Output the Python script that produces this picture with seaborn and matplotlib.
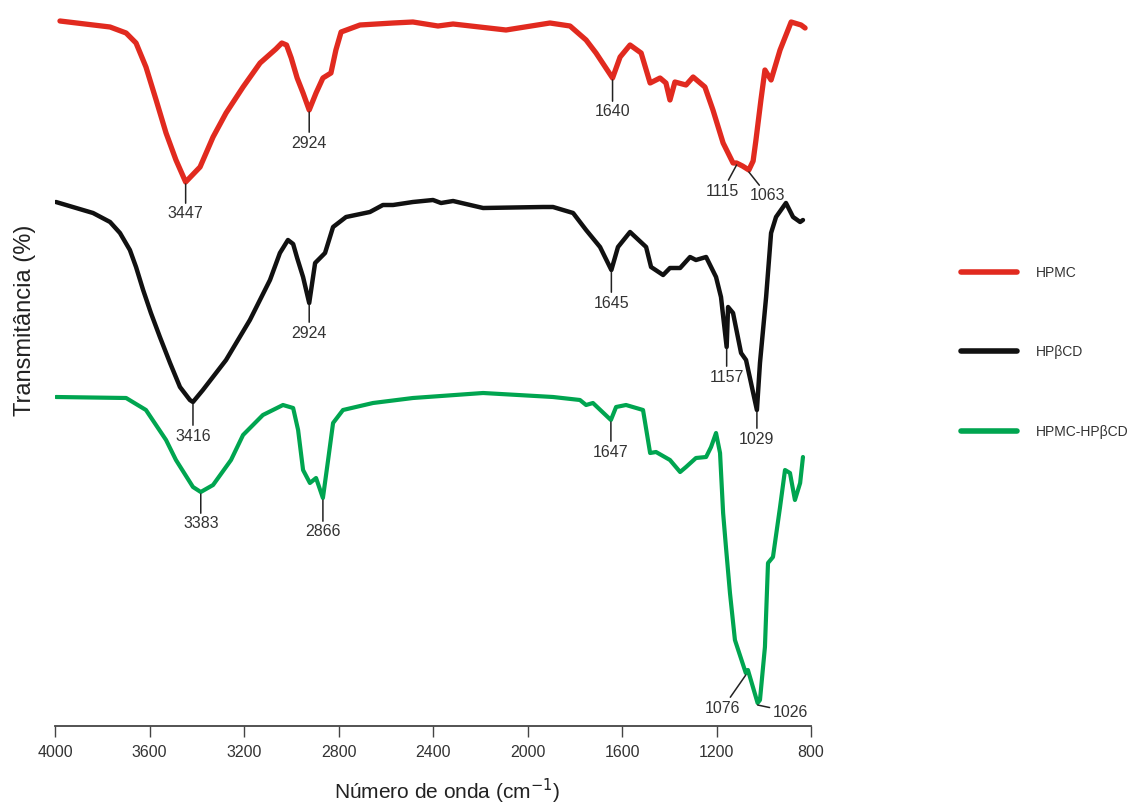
import numpy as np
import pandas as pd
import matplotlib
matplotlib.use("Agg")
import matplotlib.pyplot as plt
import seaborn as sns
from matplotlib.lines import Line2D

# ---------------- data ----------------
series_names = ["HPMC", "HPβCD", "HPMC-HPβCD"]
series_colors = ["#e12a1f", "#111111", "#00a550"]

hpmc_wn = [3979, 3767, 3699, 3657, 3615, 3572, 3530, 3488, 3447, 3386,
           3331, 3276, 3204, 3132, 3065, 3040, 3020, 3000, 2975, 2950,
           2924, 2895, 2866, 2832, 2811, 2789, 2709, 2569, 2485, 2379,
           2315, 2091, 1905, 1820, 1752, 1710, 1640, 1608, 1566, 1519,
           1481, 1439, 1414, 1397, 1376, 1329, 1299, 1249, 1215, 1172,
           1130, 1115, 1090, 1063, 1045, 1033, 1012, 995, 969, 931,
           884, 842, 825]
hpmc_t = [705, 699, 693, 683, 659, 626, 593, 566, 544, 559,
          589, 613, 639, 663, 677, 683, 681, 668, 648, 633,
          616, 633, 648, 653, 676, 694, 701, 703, 704, 700,
          702, 696, 703, 700, 686, 673, 648, 669, 681, 673,
          643, 648, 643, 626, 644, 641, 649, 639, 616, 583,
          563, 563, 560, 556, 565, 586, 626, 656, 646, 676,
          704, 701, 698]

hpbcd_wn = [3996, 3839, 3767, 3725, 3683, 3657, 3627, 3594, 3556, 3513,
            3471, 3429, 3416, 3374, 3276, 3175, 3090, 3048, 3014, 2992,
            2975, 2950, 2924, 2899, 2857, 2823, 2768, 2667, 2612, 2569,
            2485, 2400, 2366, 2315, 2188, 1934, 1892, 1807, 1752, 1693,
            1645, 1617, 1566, 1498, 1477, 1426, 1397, 1354, 1312, 1287,
            1244, 1202, 1181, 1157, 1151, 1130, 1096, 1075, 1029, 1016,
            990, 969, 948, 906, 876, 846, 834]
hpbcd_t = [524, 513, 504, 493, 476, 459, 436, 413, 389, 363,
           339, 326, 324, 336, 366, 406, 446, 473, 486, 482,
           468, 449, 423, 463, 473, 499, 509, 514, 521, 521,
           524, 526, 523, 525, 518, 519, 519, 513, 496, 479,
           456, 479, 494, 479, 459, 451, 458, 458, 469, 466,
           469, 449, 429, 379, 419, 413, 373, 366, 316, 363,
           429, 493, 509, 523, 509, 504, 506]

mix_wn = [3996, 3699, 3615, 3530, 3488, 3416, 3383, 3331, 3255, 3204,
          3120, 3035, 2992, 2971, 2950, 2921, 2895, 2866, 2844, 2823,
          2781, 2654, 2485, 2188, 1892, 1778, 1752, 1723, 1647, 1625,
          1583, 1511, 1481, 1456, 1397, 1354, 1329, 1287, 1244, 1223,
          1202, 1185, 1172, 1160, 1143, 1122, 1076, 1067, 1026, 1016,
          995, 982, 961, 931, 910, 889, 868, 846, 834]
mix_t = [329, 328, 316, 286, 266, 239, 234, 241, 266, 291,
         311, 321, 318, 296, 256, 243, 248, 228, 266, 303,
         316, 323, 328, 333, 329, 326, 321, 323, 306, 319,
         321, 316, 273, 274, 266, 254, 259, 268, 269, 279,
         293, 273, 213, 179, 133, 86, 53, 56, 23, 26,
         79, 163, 169, 219, 256, 253, 226, 243, 269]

# peak labels: series index, wavenumber
peak_series = [0, 0, 0, 0, 0, 1, 1, 1, 1, 1, 2, 2, 2, 2, 2]
peak_wn = [3447, 2924, 1640, 1115, 1063, 3416, 2924, 1645, 1157, 1029,
           3383, 2866, 1647, 1076, 1026]
# label text offsets (pixels right, pixels down) from the peak
peak_offsets = [(0, 30), (0, 31), (0, 32), (-14, 26), (19, 24),
                (0, 32), (0, 28), (0, 31), (0, 28), (0, 27),
                (0, 30), (0, 32), (0, 30), (-23, 33), (33, 7)]

x_ticks = [4000, 3600, 3200, 2800, 2400, 2000, 1600, 1200, 800]

# ---------------- build tidy frame ----------------
frames = []
for name, wn, t in zip(series_names, [hpmc_wn, hpbcd_wn, mix_wn],
                       [hpmc_t, hpbcd_t, mix_t]):
    frames.append(pd.DataFrame({"wn": wn, "T": t, "serie": name}))
df = pd.concat(frames, ignore_index=True)

# ---------------- figure ----------------
sns.set_theme(style="white")
plt.rcParams["font.family"] = ["Liberation Sans", "DejaVu Sans"]

fig = plt.figure(figsize=(11.3, 8.05), dpi=100)
W, H = 1130, 805
ax = fig.add_axes([55 / W, 79 / H, 756 / W, 716 / H])

widths = [3.8, 3.2, 3.0]
for name, col, lw in zip(series_names, series_colors, widths):
    sub = df[df["serie"] == name]
    sns.lineplot(data=sub, x="wn", y="T", color=col, lw=lw, ax=ax,
                 estimator=None, sort=False, legend=False)

ax.set_xlim(4000, 800)
ax.set_ylim(0, 716)
ax.set_xticks(x_ticks)
ax.set_xticklabels([str(v) for v in x_ticks])
ax.set_yticks([])
for s in ["left", "top", "right"]:
    ax.spines[s].set_visible(False)
ax.spines["bottom"].set_color("#444444")
ax.spines["bottom"].set_linewidth(1.3)
ax.tick_params(axis="x", direction="out", length=8, width=1.0,
               color="#444444", pad=6, labelsize=11.5, labelcolor="#333333",
               bottom=True)

ax.set_xlabel("Número de onda (cm$^{-1}$)", fontsize=15,
              color="#222222", va="center")
ax.xaxis.set_label_coords(0.519, -0.092)
ax.set_ylabel("Transmitância (%)", fontsize=17, color="#222222",
              va="center")
ax.yaxis.set_label_coords(-0.04, 0.567)

# ---------------- peak annotations ----------------
all_wn = [hpmc_wn, hpbcd_wn, mix_wn]
all_t = [hpmc_t, hpbcd_t, mix_t]
px2pt = 0.72
for si, wn, (dx, dy) in zip(peak_series, peak_wn, peak_offsets):
    tval = np.interp(wn, all_wn[si][::-1], all_t[si][::-1]) - 2
    ax.annotate(str(wn), xy=(wn, tval), xytext=(dx * px2pt, -dy * px2pt),
                textcoords="offset points", ha="center", va="center",
                fontsize=11.5, color="#333333",
                arrowprops=dict(arrowstyle="-", color="#222222", lw=1.1,
                                shrinkA=0, shrinkB=0))

# ---------------- legend ----------------
handles = [Line2D([0], [0], color=c, lw=4) for c in series_colors]
fig.legend(handles, series_names, loc="upper left",
           bbox_to_anchor=(961 / W, (H - 266) / H), frameon=False,
           fontsize=10, handlelength=4.0, handletextpad=1.4,
           labelspacing=4.7, borderpad=0, borderaxespad=0,
           labelcolor="#333333")

fig.savefig("out.png", dpi=100, facecolor="white")
